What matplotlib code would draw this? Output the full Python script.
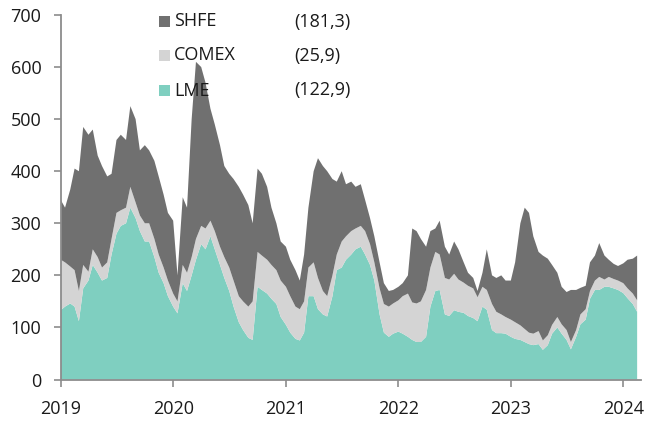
import matplotlib
matplotlib.use("Agg")
import matplotlib.pyplot as plt
from matplotlib.patches import Rectangle
import pandas as pd

plt.rcParams['font.family'] = ['Open Sans', 'DejaVu Sans']

# semi-monthly observations, Jan 2019 - Feb 2024 (thousand tonnes)
dates = pd.date_range('2019-01-01', periods=124, freq='SMS')

lme = [133, 140, 146, 140, 112, 175, 190, 220, 205, 190, 195, 240,
       280, 295, 300, 330, 310, 285, 265, 265, 235, 205, 185, 160,
       140, 127, 185, 170, 200, 230, 260, 250, 275, 250, 220, 195,
       170, 140, 110, 95, 80, 76, 178, 172, 165, 155, 145, 120,
       105, 90, 78, 75, 90, 160, 160, 135, 125, 121, 160, 210,
       215, 230, 240, 250, 255, 240, 220, 190, 125, 90, 82, 88,
       92, 88, 82, 76, 72, 72, 82, 140, 170, 172, 125, 122,
       133, 130, 128, 122, 118, 112, 140, 134, 95, 89, 89, 88,
       82, 78, 76, 72, 68, 66, 68, 57, 66, 88, 100, 88,
       76, 58, 82, 106, 115, 155, 172, 172, 178, 178, 175, 172,
       166, 156, 145, 130]

comex = [97, 85, 71, 70, 58, 45, 17, 30, 30, 25, 30, 30,
         40, 30, 30, 40, 30, 30, 35, 35, 35, 35, 30, 30,
         25, 23, 35, 35, 35, 40, 35, 40, 30, 35, 35, 40,
         45, 50, 50, 55, 60, 74, 67, 66, 65, 65, 65, 70,
         73, 70, 62, 60, 60, 55, 65, 60, 45, 39, 40, 30,
         50, 45, 45, 40, 40, 45, 40, 35, 50, 55, 58, 58,
         60, 72, 83, 72, 74, 78, 90, 75, 75, 68, 70, 70,
         70, 62, 58, 58, 57, 46, 38, 38, 50, 41, 36, 32,
         33, 32, 28, 25, 22, 22, 25, 18, 19, 17, 20, 18,
         19, 14, 13, 19, 20, 15, 18, 25, 14, 19, 18, 18,
         19, 19, 20, 22]

shfe = [115, 105, 148, 195, 230, 265, 263, 230, 195, 195, 165, 125,
        140, 145, 130, 155, 160, 125, 150, 140, 150, 150, 140, 130,
        140, 50, 130, 125, 265, 340, 305, 280, 215, 205, 195, 175,
        180, 195, 210, 205, 195, 150, 160, 157, 140, 110, 90, 75,
        77, 70, 70, 55, 90, 115, 175, 230, 240, 240, 185, 140,
        135, 100, 95, 80, 80, 60, 50, 50, 50, 40, 30, 26,
        26, 25, 35, 142, 139, 120, 83, 70, 45, 65, 60, 48,
        62, 58, 39, 25, 20, 12, 27, 78, 55, 65, 75, 70,
        75, 115, 196, 233, 230, 187, 152, 163, 147, 115, 85, 72,
        73, 100, 77, 51, 45, 55, 48, 65, 46, 33, 29, 28,
        38, 55, 67, 86]

names = ['SHFE', 'COMEX', 'LME']
legend_values = ['(181,3)', '(25,9)', '(122,9)']
colors = {'SHFE': '#707070', 'COMEX': '#d4d4d4', 'LME': '#7fcfc0'}

yticks = [0, 100, 200, 300, 400, 500, 600, 700]
year_ticks = ['2019', '2020', '2021', '2022', '2023', '2024']

fig = plt.figure(figsize=(6.46, 4.22), dpi=100)
ax = fig.add_axes([0.094, 0.1007, 0.898, 0.8638])

ax.stackplot(dates, lme, comex, shfe,
             colors=[colors['LME'], colors['COMEX'], colors['SHFE']],
             linewidth=0)

ax.set_ylim(0, 700)
ax.set_xlim(pd.Timestamp('2019-01-01'), pd.Timestamp('2024-02-27'))
ax.set_yticks(yticks)
ax.set_xticks([pd.Timestamp(y + '-01-01') for y in year_ticks])
ax.set_xticklabels(year_ticks)

for s in ['top', 'right']:
    ax.spines[s].set_visible(False)
for s in ['left', 'bottom']:
    ax.spines[s].set_color('#8c8c8c')
    ax.spines[s].set_linewidth(1.3)
    ax.spines[s].set_zorder(5)

ax.tick_params(axis='both', direction='out', length=5, width=1.2,
               color='#8c8c8c', labelsize=13, labelcolor='#1a1a1a')
ax.tick_params(axis='x', pad=10)
ax.tick_params(axis='y', pad=9)

# legend
W, H = 646, 422
rows_y = [21.5, 55.5, 90.5]
for name, val, yc in zip(names, legend_values, rows_y):
    sq = 11.5
    fig.patches.append(Rectangle((158.5 / W, (H - yc - sq / 2) / H), sq / W, sq / H,
                                 transform=fig.transFigure, facecolor=colors[name],
                                 edgecolor='none', zorder=10))
    fig.text(174 / W, (H - yc) / H, name, fontsize=13, va='center', ha='left',
             color='#1a1a1a', zorder=11)
    fig.text(294 / W, (H - yc) / H, val, fontsize=13, va='center', ha='left',
             color='#1a1a1a', zorder=11)

fig.savefig('out.png', dpi=100)
